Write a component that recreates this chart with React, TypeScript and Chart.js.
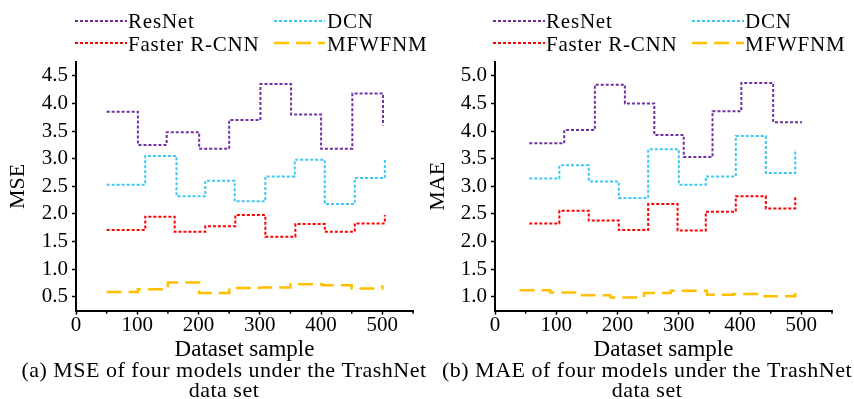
import React, { useEffect, useRef } from 'react';
import { Chart, registerables } from 'chart.js';

Chart.register(...registerables);

const seriesNames = ['ResNet', 'DCN', 'Faster R-CNN', 'MFWFNM'];

const xMajorTicks = [0, 100, 200, 300, 400, 500];
const xMinorTicks = [50, 150, 250, 350, 450, 550];

const mseTicks = [0.5, 1.0, 1.5, 2.0, 2.5, 3.0, 3.5, 4.0, 4.5];
const maeTicks = [1.0, 1.5, 2.0, 2.5, 3.0, 3.5, 4.0, 4.5, 5.0];

// (a) MSE
const mseResNetX = [50, 101, 148, 201, 250, 301, 351, 400, 451, 501];
const mseResNetY = [3.85, 3.25, 3.48, 3.18, 3.7, 4.35, 3.8, 3.18, 4.18, 3.6];
const mseDcnX = [50, 113, 164, 211, 259, 309, 357, 406, 455, 504];
const mseDcnY = [2.53, 3.05, 2.32, 2.6, 2.23, 2.68, 2.98, 2.18, 2.65, 2.98];
const mseFasterX = [50, 113, 161, 211, 260, 309, 358, 406, 455, 504];
const mseFasterY = [1.71, 1.95, 1.68, 1.78, 1.98, 1.59, 1.82, 1.68, 1.83, 1.98];
const mseMfwfnmX = [50, 101, 150, 201, 250, 300, 350, 402, 450, 500];
const mseMfwfnmY = [0.59, 0.64, 0.76, 0.57, 0.66, 0.67, 0.73, 0.71, 0.65, 0.71];

// (b) MAE
const maeResNetX = [56, 113, 163, 212, 260, 308, 355, 402, 454, 501];
const maeResNetY = [3.78, 4.02, 4.84, 4.5, 3.93, 3.53, 4.36, 4.87, 4.16, 4.16];
const maeDcnX = [56, 105, 153, 202, 250, 300, 344, 393, 442, 490];
const maeDcnY = [3.14, 3.38, 3.09, 2.79, 3.67, 3.03, 3.18, 3.91, 3.24, 3.67];
const maeFasterX = [56, 105, 153, 202, 250, 298, 344, 393, 442, 490];
const maeFasterY = [2.33, 2.56, 2.38, 2.21, 2.68, 2.2, 2.54, 2.82, 2.6, 2.82];
const maeMfwfnmX = [40, 90, 142, 188, 243, 287, 346, 389, 440, 490];
const maeMfwfnmY = [1.12, 1.08, 1.03, 0.99, 1.07, 1.11, 1.04, 1.05, 1.01, 1.07];

const captionA = ['(a) MSE of four models under the TrashNet', 'data set'];
const captionB = ['(b) MAE of four models under the TrashNet', 'data set'];

const FONT = '"Liberation Serif", "Times New Roman", serif';

const seriesStyles = [
  { color: '#7030A0', dash: [3, 2], width: 2 },
  { color: '#3CC8F4', dash: [3, 2], width: 2 },
  { color: '#FF0000', dash: [3, 2], width: 2 },
  { color: '#FFC000', dash: [15, 7], width: 2.5 },
];

const decorPlugin = {
  id: 'panelDecor',
  afterDraw(chart: any, _args: any, opts: any) {
    const ctx = chart.ctx;
    const xScale = chart.scales.x;
    const bottom = chart.chartArea.bottom;
    ctx.save();
    ctx.strokeStyle = '#000';
    ctx.lineWidth = 1.5;
    ctx.setLineDash([]);
    for (const v of xMinorTicks) {
      const px = xScale.getPixelForValue(v);
      ctx.beginPath();
      ctx.moveTo(px, bottom);
      ctx.lineTo(px, bottom + 3);
      ctx.stroke();
    }
    ctx.font = '21px ' + FONT;
    ctx.textBaseline = 'alphabetic';
    ctx.textAlign = 'left';
    ctx.fillStyle = '#000';
    try { (ctx as any).letterSpacing = '0.8px'; } catch (e) {}
    chart.data.datasets.forEach((ds: any, i: number) => {
      const col = opts.legendCols[i % 2];
      const row = opts.legendRows[Math.floor(i / 2)];
      ctx.strokeStyle = ds.borderColor;
      ctx.lineWidth = ds.borderWidth;
      ctx.setLineDash(ds.borderDash);
      ctx.beginPath();
      ctx.moveTo(col.lineStart, row.lineY);
      ctx.lineTo(col.lineEnd, row.lineY);
      ctx.stroke();
      ctx.fillText(ds.label, col.textX, row.textY);
    });
    ctx.setLineDash([]);
    ctx.textAlign = 'center';
    ctx.font = '22px ' + FONT;
    try { (ctx as any).letterSpacing = '0.5px'; } catch (e) {}
    opts.caption.forEach((line: string, i: number) => {
      ctx.fillText(line, opts.captionX, opts.captionY[i]);
    });
    try { (ctx as any).letterSpacing = '0px'; } catch (e) {}
    ctx.restore();
  },
};

type PanelProps = {
  pageLeft: number;
  width: number;
  xs: number[][];
  ys: number[][];
  yMin: number;
  yMax: number;
  yTicks: number[];
  yTitle: string;
  yTitlePad: number;
  areaLeft: number;
  areaRight: number;
  caption: string[];
  captionX: number;
  legendCols: { lineStart: number; lineEnd: number; textX: number }[];
};

function Panel(p: PanelProps) {
  const ref = useRef<HTMLCanvasElement>(null);
  useEffect(() => {
    if (!ref.current) return;
    const chart = new Chart(ref.current, {
      type: 'line',
      data: {
        datasets: seriesNames.map((name, i) => ({
          label: name,
          data: p.xs[i].map((x, j) => ({ x, y: p.ys[i][j] })),
          borderColor: seriesStyles[i].color,
          borderDash: seriesStyles[i].dash,
          borderWidth: seriesStyles[i].width,
          pointRadius: 0,
          fill: false,
          stepped: 'before',
          tension: 0,
        })),
      },
      options: {
        responsive: false,
        animation: false,
        devicePixelRatio: 1,
        layout: { padding: { top: 62, left: 0, right: p.width - p.areaRight, bottom: 39 } },
        plugins: {
          legend: { display: false },
          title: { display: false },
          tooltip: { enabled: false },
          panelDecor: {
            legendCols: p.legendCols,
            legendRows: [
              { lineY: 21, textY: 27.5 },
              { lineY: 43, textY: 51 },
            ],
            caption: p.caption,
            captionX: p.captionX,
            captionY: [376.7, 396.5],
          },
        } as any,
        scales: {
          x: {
            type: 'linear',
            min: 0,
            max: 550,
            afterBuildTicks: (s: any) => {
              s.ticks = xMajorTicks.map((v) => ({ value: v }));
            },
            afterFit: (s: any) => {
              s.height = 49.3;
            },
            grid: { drawOnChartArea: false, drawTicks: true, tickLength: 4, tickColor: '#000', tickWidth: 1.5 },
            border: { color: '#000', width: 2 },
            ticks: {
              color: '#000',
              padding: 0,
              maxRotation: 0,
              autoSkip: false,
              font: { family: FONT, size: 21, lineHeight: 1 },
              callback: (v: any) => String(v),
            },
            title: {
              display: true,
              text: 'Dataset sample',
              color: '#000',
              font: { family: FONT, size: 23, lineHeight: 0.85 },
              padding: { top: 0, bottom: 0 },
            },
          },
          y: {
            type: 'linear',
            min: p.yMin,
            max: p.yMax,
            afterBuildTicks: (s: any) => {
              s.ticks = p.yTicks.map((v) => ({ value: v }));
            },
            afterFit: (s: any) => {
              s.width = p.areaLeft;
            },
            grid: { drawOnChartArea: false, drawTicks: true, tickLength: 4, tickColor: '#000', tickWidth: 1.5 },
            border: { color: '#000', width: 2 },
            ticks: {
              color: '#000',
              padding: 4,
              font: { family: FONT, size: 21, lineHeight: 1 },
              callback: (v: any) => Number(v).toFixed(1),
            },
            title: {
              display: true,
              text: p.yTitle,
              color: '#000',
              font: { family: FONT, size: 22, lineHeight: 1 },
              padding: { top: p.yTitlePad, bottom: 0 },
            },
          },
        },
      } as any,
      plugins: [decorPlugin as any],
    });
    return () => chart.destroy();
  }, []);
  return (
    <canvas
      ref={ref}
      width={p.width}
      height={399}
      style={{ position: 'absolute', left: p.pageLeft, top: 0, width: p.width, height: 399 }}
    />
  );
}

export default function App() {
  return (
    <div style={{ position: 'absolute', left: 0, top: 0, width: 854, height: 399, background: '#fff' }}>
      <Panel
        pageLeft={0}
        width={445}
        xs={[mseResNetX, mseDcnX, mseFasterX, mseMfwfnmX]}
        ys={[mseResNetY, mseDcnY, mseFasterY, mseMfwfnmY]}
        yMin={0.25}
        yMax={4.75}
        yTicks={mseTicks}
        yTitle="MSE"
        yTitlePad={7}
        areaLeft={76}
        areaRight={413}
        caption={captionA}
        captionX={224}
        legendCols={[
          { lineStart: 75, lineEnd: 127, textX: 128 },
          { lineStart: 274, lineEnd: 325, textX: 327 },
        ]}
      />
      <Panel
        pageLeft={427}
        width={427}
        xs={[maeResNetX, maeDcnX, maeFasterX, maeMfwfnmX]}
        ys={[maeResNetY, maeDcnY, maeFasterY, maeMfwfnmY]}
        yMin={0.75}
        yMax={5.25}
        yTicks={maeTicks}
        yTitle="MAE"
        yTitlePad={0}
        areaLeft={68}
        areaRight={405}
        caption={captionB}
        captionX={220}
        legendCols={[
          { lineStart: 66, lineEnd: 118, textX: 119 },
          { lineStart: 265, lineEnd: 317, textX: 318 },
        ]}
      />
    </div>
  );
}
